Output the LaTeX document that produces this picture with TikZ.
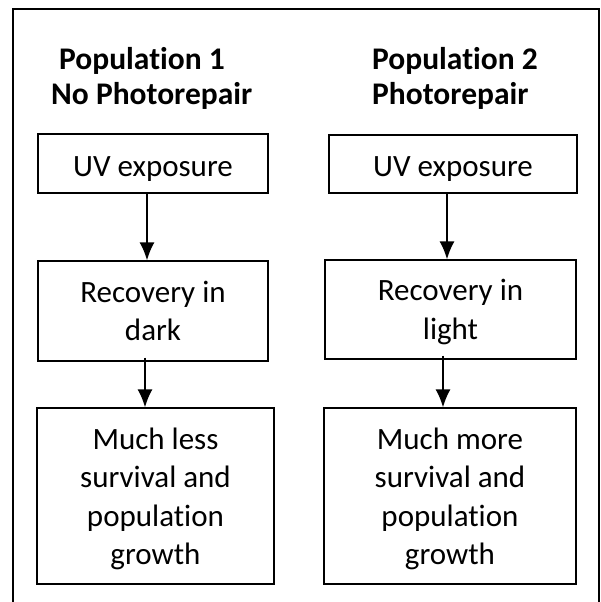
\documentclass[tikz,border=0pt]{standalone}
\usepackage{fontspec}
\setmainfont[Ligatures=NoCommon]{Carlito}
\usetikzlibrary{arrows.meta}
\usetikzlibrary{positioning}

\begin{document}
\begin{tikzpicture}[x=1pt,y=-1pt,>={Latex[length=18pt,width=15pt]},
    stepbox/.style={draw,line width=1.2pt,align=center,inner sep=0pt,
        font=\fontsize{31}{38.5}\selectfont},
    title/.style={align=left,inner sep=0pt,anchor=base west,
        font=\fontsize{31.5}{35}\selectfont\bfseries},
    arr/.style={->,line width=1.8pt}]
    % page and outer frame
    \useasboundingbox (0,0) rectangle (600,602);
    \draw[line width=1.8pt] (13,603) -- (13,9) -- (599,9) -- (599,603);

    % column titles
    \node[title] (t1) at (51,104) {\hspace*{8pt}Population 1\\No Photorepair};
    \node[title] (t2) at (372,104) {Population 2\\Photorepair};

    % left column
    \node[stepbox,minimum width=230pt,minimum height=59pt,text height=25pt,text depth=0pt] (l1) at (153,163.5) {UV exposure};
    \node[stepbox,minimum width=230pt,minimum height=100pt] (l2) at (153,311) {Recovery in\\dark};
    \node[stepbox,minimum width=237pt,minimum height=176pt,text depth=-5pt] (l3) at (155.5,496) {Much less\\survival and\\population\\growth};

    % right column
    \node[stepbox,minimum width=248pt,minimum height=58pt,text height=25pt,text depth=0pt] (r1) at (453,164) {UV exposure};
    \node[stepbox,minimum width=251pt,minimum height=99pt,text depth=-2pt] (r2) at (450.5,309.5) {Recovery in\\\smash{light}};
    \node[stepbox,minimum width=252pt,minimum height=176pt,text depth=-5pt] (r3) at (450,496) {Much more\\survival and\\population\\growth};

    % arrows
    \draw[arr] ([xshift=-6pt]l1.south) -- ([xshift=-6pt]l1.south |- l2.north);
    \draw[arr] ([xshift=-8pt,yshift=4pt]l2.south) -- ([xshift=-8pt]l2.south |- l3.north);
    \draw[arr] ([xshift=-6pt]r1.south) -- ([xshift=-6pt]r1.south |- r2.north);
    \draw[arr] ([xshift=-7.5pt,yshift=4pt]r2.south) -- ([xshift=-7.5pt]r2.south |- r3.north);
\end{tikzpicture}
\end{document}
